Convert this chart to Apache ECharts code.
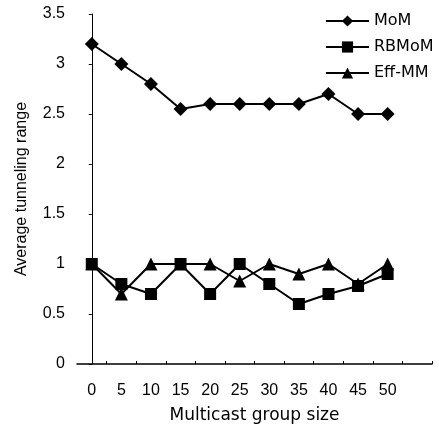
<!DOCTYPE html>
<html>
<head>
<meta charset="utf-8">
<script src="https://cdn.jsdelivr.net/npm/echarts@6/dist/echarts.min.js"></script>
<style>html,body{margin:0;padding:0;background:#fff}#c{width:439px;height:429px}</style>
</head>
<body>
<div id="c"></div>
<script>
const groupSizes = [0, 5, 10, 15, 20, 25, 30, 35, 40, 45, 50];
const momValues = [3.2, 3.0, 2.8, 2.55, 2.6, 2.6, 2.6, 2.6, 2.7, 2.5, 2.5];
const rbmomValues = [1.0, 0.8, 0.7, 1.0, 0.7, 1.0, 0.8, 0.6, 0.7, 0.78, 0.9];
const effmmValues = [1.0, 0.7, 1.0, 1.0, 1.0, 0.83, 1.0, 0.9, 1.0, 0.8, 1.0];
const xTickPositions = [2.5, 7.5, 12.5, 17.5, 22.5, 27.5, 32.5, 37.5, 42.5, 47.5, 52.5, 57.5];

const pair = (vals) => groupSizes.map((x, i) => [x, vals[i]]);
const font = 'Liberation Sans, Arial, sans-serif';
const wide = 'DejaVu Sans, sans-serif';
const mk = (name, vals, symbol, size) => ({
  name, type: 'line', data: pair(vals), symbol, symbolSize: size,
  lineStyle: { color: '#000', width: 2 }, itemStyle: { color: '#000' },
  animation: false
});

const chart = echarts.init(document.getElementById('c'));
chart.setOption({
  backgroundColor: '#fff',
  animation: false,
  grid: { left: 77, right: 7, top: 14, bottom: 65 },
  legend: {
    orient: 'vertical', left: 325, top: 13, padding: 0, itemWidth: 43, itemHeight: 14, itemGap: 10,
    textStyle: { fontFamily: wide, fontSize: 16, color: '#000', padding: [0, 0, 0, 0] },
    data: ['MoM', 'RBMoM', 'Eff-MM']
  },
  xAxis: {
    type: 'value', min: -2.5, max: 57.5,
    name: 'Multicast group size', nameLocation: 'middle', nameGap: 43,
    nameTextStyle: { fontFamily: wide, fontSize: 17, color: '#000' },
    axisLine: { lineStyle: { color: '#000', width: 1.5 } },
    axisTick: { show: true, inside: true, customValues: xTickPositions, length: 3, lineStyle: { color: '#000' } },
    axisLabel: { customValues: groupSizes, fontFamily: font, fontSize: 16, color: '#000', margin: 19 },
    splitLine: { show: false }
  },
  yAxis: {
    type: 'value', min: 0, max: 3.5, interval: 0.5,
    name: 'Average tunneling range', nameLocation: 'middle', nameGap: 47,
    nameTextStyle: { fontFamily: font, fontSize: 16, color: '#000' },
    axisLine: { show: true, lineStyle: { color: '#000', width: 1 } },
    axisTick: { show: true, length: 3, lineStyle: { color: '#000' } },
    axisLabel: { fontFamily: font, fontSize: 16, color: '#000', margin: 12 },
    splitLine: { show: false }
  },
  series: [
    mk('MoM', momValues, 'diamond', 14),
    mk('RBMoM', rbmomValues, 'rect', 12),
    mk('Eff-MM', effmmValues, 'triangle', 13)
  ]
});
</script>
</body>
</html>
